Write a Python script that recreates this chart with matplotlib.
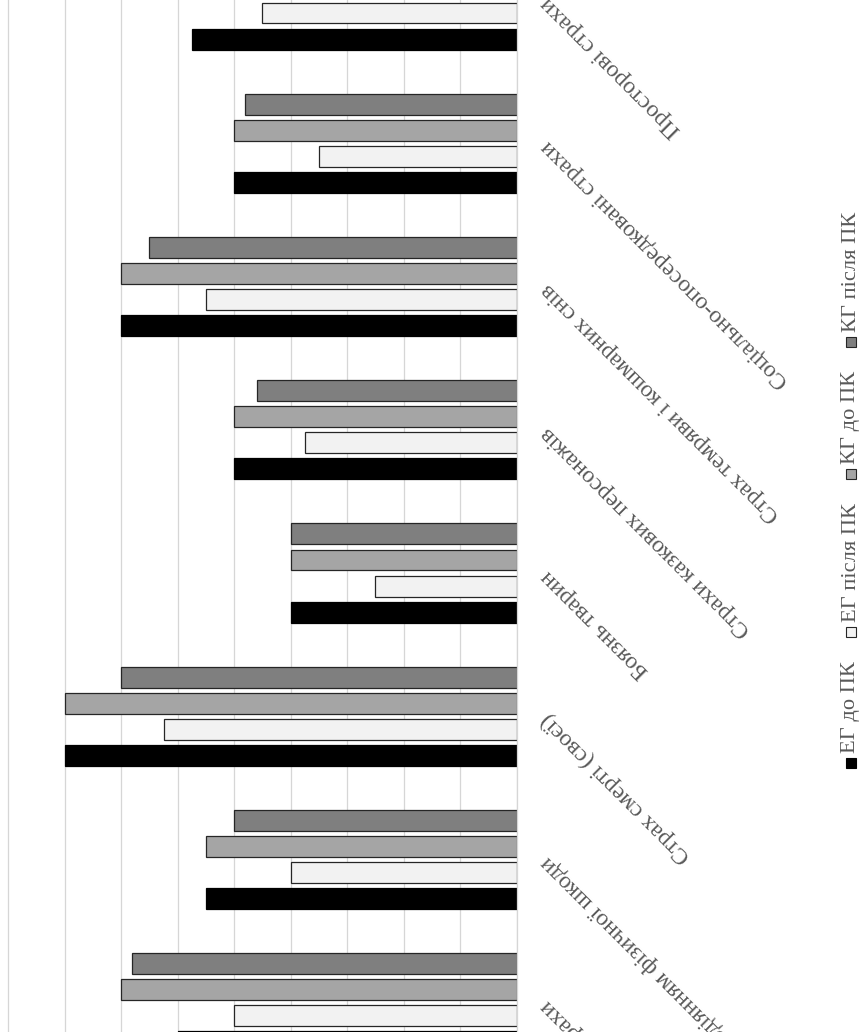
import matplotlib
matplotlib.use("Agg")
import numpy as np
import matplotlib.pyplot as plt
from matplotlib.patches import Rectangle

plt.rcParams["font.family"] = ["Liberation Serif", "DejaVu Serif"]

# категорії страхів (знизу вгору)
categories = [
    "Медичні страхи",
    "Страхи, пов’язані з заподіянням фізичної шкоди",
    "Страх смерті (своєї)",
    "Боязнь тварин",
    "Страхи казкових персонажів",
    "Страх темряви і кошмарних снів",
    "Соціально-опосередковані страхи",
    "Просторові страхи",
]

# частка дітей, %
eg_before = [60, 55, 80, 40, 50, 70, 50, 57.5]
eg_after = [50, 40, 62.5, 25, 37.5, 55, 35, 45]
kg_before = [70, 55, 80, 40, 50, 70, 50, 60]
kg_after = [68, 50, 70, 40, 46, 65, 48, 55]

series = [
    ("ЕГ до ПК", eg_before, "#000000", "#000000"),
    ("ЕГ після ПК", eg_after, "#f2f2f2", "#262626"),
    ("КГ до ПК", kg_before, "#a5a5a5", "#262626"),
    ("КГ після ПК", kg_after, "#7f7f7f", "#262626"),
]

W, H = 864, 1032
fig = plt.figure(figsize=(W / 100, H / 100), dpi=100)
ax = fig.add_axes([0, 0, 516.7 / W, 1])

y = np.arange(len(categories))
step = 0.182
bar_h = 0.146
for i, (name, vals, face, edge) in enumerate(series):
    ax.barh(y + (i - 1.5) * step, vals, height=bar_h, color=face,
            edgecolor=edge, linewidth=0.9, zorder=2)

ax.set_xlim(91.45, 0)
ax.set_ylim(-0.204, 6.947)
ax.set_xticks(np.arange(0, 100, 10))
ax.xaxis.grid(True, color="#d6d6d6", linewidth=0.9)
ax.set_axisbelow(True)
ax.tick_params(axis="x", length=0, labelbottom=False)

for side in ["top", "bottom", "left"]:
    ax.spines[side].set_visible(False)
ax.spines["right"].set_color("#d6d6d6")
ax.spines["right"].set_linewidth(0.9)

ax.yaxis.tick_right()
ax.set_yticks(y)
ax.set_yticklabels(categories, rotation=135, rotation_mode="anchor",
                   ha="right", va="center", fontsize=17, color="#595959")
ax.tick_params(axis="y", length=0, pad=20)

# легенда, повернута на 90°
fig.canvas.draw()
renderer = fig.canvas.get_renderer()
x_c = 851
pos = H - 768
for name, vals, face, edge in series:
    fig.add_artist(Rectangle(((x_c - 5) / W, pos / H), 10 / W, 10 / H,
                             transform=fig.transFigure, facecolor=face,
                             edgecolor=edge, linewidth=0.8))
    t = fig.text(x_c / W, (pos + 15) / H, name, rotation=90,
                 rotation_mode="anchor", ha="left", va="center",
                 fontsize=16.2, color="#595959")
    ext = t.get_window_extent(renderer)
    pos = ext.y1 + 24

fig.savefig("out.png", dpi=100)
